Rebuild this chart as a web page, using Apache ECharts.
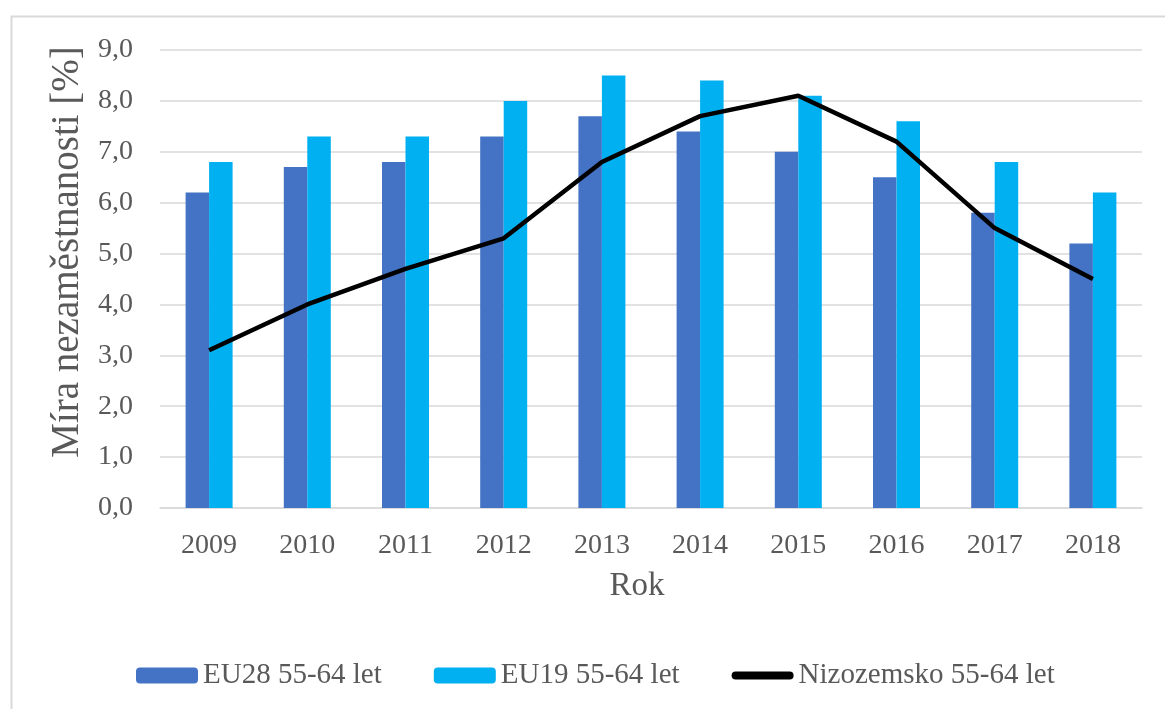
<!DOCTYPE html>
<html>
<head>
<meta charset="utf-8">
<script src="https://cdn.jsdelivr.net/npm/echarts@6/dist/echarts.min.js"></script>
<style>
html,body{margin:0;padding:0;background:#fff;}
#chart{width:1165px;height:709px;}
</style>
</head>
<body>
<div id="chart"></div>
<script>
const years = ['2009','2010','2011','2012','2013','2014','2015','2016','2017','2018'];
const eu28 = [6.2, 6.7, 6.8, 7.3, 7.7, 7.4, 7.0, 6.5, 5.8, 5.2];
const eu19 = [6.8, 7.3, 7.3, 8.0, 8.5, 8.4, 8.1, 7.6, 6.8, 6.2];
const nizozemsko = [3.1, 4.0, 4.7, 5.3, 6.8, 7.7, 8.1, 7.2, 5.5, 4.5];
const seriesNames = ['EU28 55-64 let', 'EU19 55-64 let', 'Nizozemsko 55-64 let'];

const FONT = 'Liberation Serif';
const TXT = '#595959';
const chart = echarts.init(document.getElementById('chart'), null, {renderer: 'canvas'});
chart.setOption({
  animation: false,
  backgroundColor: '#ffffff',
  textStyle: {fontFamily: FONT, color: TXT},
  graphic: [{
    type: 'rect', left: 9, top: 14, silent: true,
    shape: {width: 1300, height: 900},
    style: {fill: 'none', stroke: '#d9d9d9', lineWidth: 2}
  }],
  grid: {left: 160, right: 23, top: 50, bottom: 201, containLabel: false},
  legend: {
    left: 131, top: 656,
    itemWidth: 62, itemHeight: 16, itemGap: 52, symbolKeepAspect: true,
    textStyle: {fontFamily: FONT, fontSize: 29, color: TXT},
    data: [
      {name: seriesNames[0]},
      {name: seriesNames[1]},
      {name: seriesNames[2],
        icon: 'path://M4,0 L58,0 A4,4 0 0 1 58,8 L4,8 A4,4 0 0 1 4,0 Z',
        itemStyle: {color: '#000000'}}
    ]
  },
  xAxis: {
    type: 'category', data: years,
    name: 'Rok', nameLocation: 'middle', nameGap: 62,
    nameTextStyle: {fontFamily: FONT, fontSize: 33, color: TXT, padding: [0, 28, 0, 0]},
    axisLine: {show: true, lineStyle: {color: '#d9d9d9', width: 1.5}},
    axisTick: {show: false},
    axisLabel: {fontFamily: FONT, fontSize: 28, color: TXT, margin: 24}
  },
  yAxis: {
    type: 'value', min: 0, max: 9, interval: 1,
    name: 'Míra nezaměstnanosti [%]', nameLocation: 'middle', nameGap: 69,
    nameTextStyle: {fontFamily: FONT, fontSize: 39, color: TXT, padding: [0, 0, 0, 54]},
    axisLine: {show: false}, axisTick: {show: false},
    axisLabel: {fontFamily: FONT, fontSize: 28, color: TXT, margin: 27,
      formatter: v => v.toFixed(1).replace('.', ',')},
    splitLine: {lineStyle: {color: '#d9d9d9', width: 1.5}}
  },
  series: [
    {name: seriesNames[0], type: 'bar', data: eu28, barWidth: 23.5, barGap: '0%',
      itemStyle: {color: '#4472C4'}},
    {name: seriesNames[1], type: 'bar', data: eu19, barWidth: 23.5, barGap: '0%',
      itemStyle: {color: '#00B0F0'}},
    {name: seriesNames[2], type: 'line', data: nizozemsko, symbol: 'none', showSymbol: false,
      lineStyle: {color: '#000000', width: 4.5}, itemStyle: {color: '#000000'}, z: 5}
  ]
});
</script>
</body>
</html>
